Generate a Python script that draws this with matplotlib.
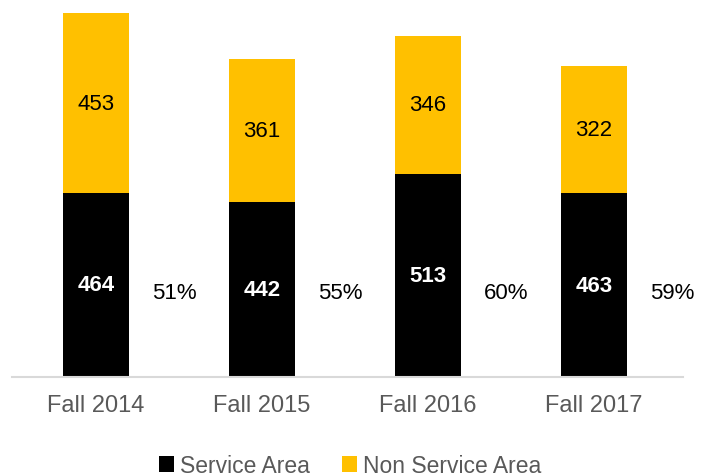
import matplotlib
matplotlib.use('Agg')
from matplotlib import pyplot as plt

plt.rcParams['font.family'] = ['Liberation Sans', 'DejaVu Sans']

terms = ['Fall 2014', 'Fall 2015', 'Fall 2016', 'Fall 2017']
service_area = [464, 442, 513, 463]
non_service_area = [453, 361, 346, 322]
service_share = ['51%', '55%', '60%', '59%']

BLACK = '#000000'
GOLD = '#FFC000'
GRAY = '#595959'


def main():
    fig = plt.figure(figsize=(7.19, 4.77), dpi=100)
    ax = fig.add_axes([0.0167, 0.2075, 0.933, 0.790])
    x = list(range(len(terms)))

    ax.bar(x, service_area, width=0.40, color=BLACK, label='Service Area')
    ax.bar(x, non_service_area, width=0.40, bottom=service_area, color=GOLD, label='Non Service Area')

    for i in x:
        # counts inside the segments, share of service area to the right
        ax.text(i, service_area[i] / 2, str(service_area[i]), ha='center', va='center',
                color='white', fontsize=16, fontweight='bold')
        ax.text(i, service_area[i] + non_service_area[i] / 2, str(non_service_area[i]),
                ha='center', va='center', color='black', fontsize=16)
        ax.text(i + 0.47, 214, service_share[i], ha='center', va='center', color='black', fontsize=16)

    ax.set_xlim(-0.506, 3.536)
    ax.set_ylim(0, 950)
    ax.set_xticks(x)
    ax.set_xticklabels(terms, fontsize=17, color=GRAY)
    ax.tick_params(axis='x', length=0, pad=12)
    ax.set_yticks([])
    for side in ['top', 'right', 'left']:
        ax.spines[side].set_visible(False)
    ax.spines['bottom'].set_color('#D9D9D9')
    ax.spines['bottom'].set_linewidth(1.5)

    leg = fig.legend(loc='center', bbox_to_anchor=(0.487, 0.022), ncol=2, frameon=False,
                     fontsize=16.5, handlelength=0.65, handleheight=0.65, handletextpad=0.25,
                     columnspacing=1.4)
    for t in leg.get_texts():
        t.set_color(GRAY)

    fig.savefig('out.png', dpi=100)


if __name__ == "__main__":
    main()
